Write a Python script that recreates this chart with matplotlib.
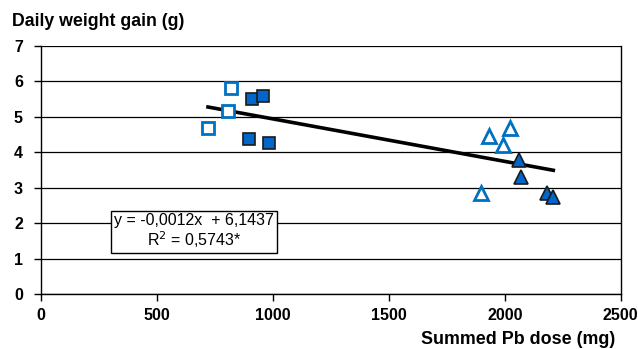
import matplotlib.pyplot as plt
import numpy as np

plt.rcParams['font.family'] = ['Liberation Sans', 'DejaVu Sans']

# data
open_sq_x = [720, 806, 820]
open_sq_y = [4.70, 5.17, 5.83]
filled_sq_x = [898, 909, 958, 985]
filled_sq_y = [4.39, 5.50, 5.60, 4.25]
open_tri_x = [1897, 1933, 1994, 2022]
open_tri_y = [2.84, 4.46, 4.21, 4.70]
filled_tri_x = [2059, 2069, 2183, 2209]
filled_tri_y = [3.78, 3.31, 2.84, 2.73]

slope = -0.0012
intercept = 6.1437
x_ticks = [0, 500, 1000, 1500, 2000, 2500]
y_ticks = [0, 1, 2, 3, 4, 5, 6, 7]

blue = '#0066CC'
light_blue = '#0070C0'

fig = plt.figure(figsize=(6.38, 3.49), dpi=100)
ax = fig.add_axes([0.0643, 0.1576, 0.9087, 0.7104])

ax.grid(axis='y', color='black', linewidth=0.9)
ax.set_axisbelow(True)

all_x = open_sq_x + filled_sq_x + open_tri_x + filled_tri_x
fit_x = np.array([min(all_x), max(all_x)])
ax.plot(fit_x, slope * fit_x + intercept, color='black', linewidth=2.6, zorder=3)

ax.plot(open_sq_x, open_sq_y, 's', ms=9, mfc='white', mec=light_blue, mew=2, zorder=4)
ax.plot(filled_sq_x, filled_sq_y, 's', ms=9, mfc=blue, mec='#1a1a1a', mew=1.2, zorder=4)
ax.plot(open_tri_x, open_tri_y, '^', ms=10, mfc='white', mec=light_blue, mew=2, zorder=4)
ax.plot(filled_tri_x, filled_tri_y, '^', ms=10, mfc=blue, mec='#1a1a1a', mew=1.2, zorder=4)

ax.set_xlim(0, 2500)
ax.set_ylim(0, 7)
ax.set_xticks(x_ticks)
ax.set_yticks(y_ticks)
ax.tick_params(direction='out', length=5, width=1, labelsize=11.5)
ax.tick_params(axis='x', pad=5)
ax.tick_params(axis='y', pad=8)
for lab in ax.get_xticklabels() + ax.get_yticklabels():
    lab.set_fontweight('bold')
ax.spines['top'].set_visible(False)
for s in ['left', 'right', 'bottom']:
    ax.spines[s].set_linewidth(1)

eq_text = 'y = -0,0012x  + 6,1437\nR$^2$ = 0,5743*'
ax.text(661, 1.77, eq_text, transform=ax.transData, ha='center', va='center',
        fontsize=11.5, linespacing=1.05, zorder=5,
        bbox=dict(boxstyle='square,pad=0.2', fc='white', ec='black', lw=1))

fig.text(12 / 638, 1 - 22 / 349, 'Daily weight gain (g)', fontsize=12.8,
         fontweight='bold', ha='left', va='center')
fig.text(615 / 638, 1 - 339 / 349, 'Summed Pb dose (mg)', fontsize=12.9,
         fontweight='bold', ha='right', va='center')

fig.savefig('out.png', dpi=100)
